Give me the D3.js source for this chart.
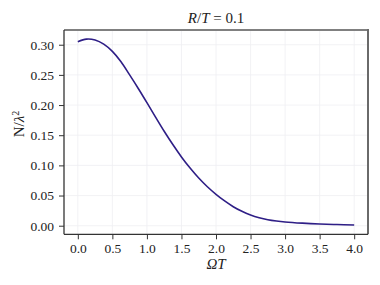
<!DOCTYPE html>
<html>
<head>
<meta charset="utf-8">
<script src="https://cdn.jsdelivr.net/npm/d3@7"></script>
<style>
  body { margin: 0; background: #fff; }
  text { font-family: "Liberation Serif", "DejaVu Serif", serif; fill: #222; }
</style>
</head>
<body>
<div id="chart"></div>
<script>
// valores
var omegaT = [0.00, 0.125, 0.25, 0.375, 0.50, 0.625, 0.75, 0.875, 1.00, 1.125, 1.25, 1.375, 1.50,
              1.625, 1.75, 1.875, 2.00, 2.125, 2.25, 2.375, 2.50, 2.625, 2.75, 2.875, 3.00, 3.25, 3.50, 3.75, 4.00];
var nLambda = [0.305, 0.3093, 0.3078, 0.301, 0.289, 0.2718, 0.250, 0.2275, 0.204, 0.180, 0.1565, 0.1345, 0.114,
               0.0955, 0.079, 0.0645, 0.052, 0.041, 0.0315, 0.0238, 0.0178, 0.0133, 0.0100, 0.0078, 0.0062,
               0.0042, 0.0028, 0.0019, 0.0012];
var xTicks = [0, 0.5, 1, 1.5, 2, 2.5, 3, 3.5, 4];
var yTicks = [0, 0.05, 0.10, 0.15, 0.20, 0.25, 0.30];

var width = 380,
    height = 285,
    pLeft = 64, pRight = 368, pTop = 30, pBottom = 234.3;

var data = omegaT.map((x, i) => ({x: x, y: nLambda[i]}));

var x = d3.scaleLinear().domain([-0.2, 4.2]).range([pLeft, pRight]);
var y = d3.scaleLinear().domain([-0.01425, 0.3244]).range([pBottom, pTop]);

var svg = d3.select("#chart").append("svg")
    .attr("width", width)
    .attr("height", height);

// rejilla
svg.append("g").selectAll("line").data(xTicks).enter().append("line")
    .attr("x1", d => x(d)).attr("x2", d => x(d))
    .attr("y1", pTop).attr("y2", pBottom)
    .attr("stroke", "#efeff3").attr("stroke-width", 0.8);
svg.append("g").selectAll("line").data(yTicks).enter().append("line")
    .attr("x1", pLeft).attr("x2", pRight)
    .attr("y1", d => y(d)).attr("y2", d => y(d))
    .attr("stroke", "#efeff3").attr("stroke-width", 0.8);

// curva
var line = d3.line()
    .x(d => x(d.x))
    .y(d => y(d.y))
    .curve(d3.curveCatmullRom);

svg.append("path")
    .datum(data)
    .attr("d", line)
    .attr("fill", "none")
    .attr("stroke", "#2e1e86")
    .attr("stroke-width", 1.6);

// marco
svg.append("line").attr("x1", pLeft).attr("x2", pRight).attr("y1", pTop).attr("y2", pTop)
    .attr("stroke", "#808080").attr("stroke-width", 2);
svg.append("line").attr("x1", pRight).attr("x2", pRight).attr("y1", pTop - 1).attr("y2", pBottom)
    .attr("stroke", "#6a6a6a").attr("stroke-width", 2);

// ejes
var xAxis = svg.append("g")
    .attr("transform", "translate(0," + pBottom + ")")
    .call(d3.axisBottom(x).tickValues(xTicks).tickFormat(d3.format(".1f")).tickSizeOuter(0).tickSize(5).tickPadding(4));
var yAxis = svg.append("g")
    .attr("transform", "translate(" + pLeft + ",0)")
    .call(d3.axisLeft(y).tickValues(yTicks).tickFormat(d3.format(".2f")).tickSizeOuter(0).tickSize(5).tickPadding(5));

[xAxis, yAxis].forEach(function (g) {
    g.select(".domain").attr("stroke", "#333").attr("stroke-width", 1.3);
    g.selectAll(".tick line").attr("stroke", "#333").attr("stroke-width", 1);
    g.selectAll(".tick text")
        .style("font-family", "'Liberation Serif', serif")
        .style("font-size", "13.5px")
        .attr("fill", "#222");
});
xAxis.select(".domain").attr("d", "M" + pLeft + ",0H" + pRight);
yAxis.select(".domain").attr("d", "M0," + pTop + "V" + pBottom);

// titulo
var title = svg.append("text")
    .attr("x", (pLeft + pRight) / 2)
    .attr("y", 23)
    .attr("text-anchor", "middle")
    .style("font-size", "15px");
title.append("tspan").style("font-style", "italic").text("R");
title.append("tspan").text("/");
title.append("tspan").style("font-style", "italic").text("T");
title.append("tspan").text(" = 0.1");

// etiqueta x
var xl = svg.append("text")
    .attr("x", (pLeft + pRight) / 2)
    .attr("y", 269)
    .attr("text-anchor", "middle")
    .style("font-size", "15px");
xl.append("tspan").style("font-style", "italic").text("Ω");
xl.append("tspan").style("font-style", "italic").text("T");

// etiqueta y
var yl = svg.append("text")
    .attr("transform", "translate(24," + 124 + ") rotate(-90)")
    .attr("text-anchor", "middle")
    .style("font-size", "15px");
yl.append("tspan").text("N/");
yl.append("tspan").style("font-style", "italic").text("λ");
yl.append("tspan").attr("dy", -5).style("font-size", "10px").text("2");
</script>
</body>
</html>
